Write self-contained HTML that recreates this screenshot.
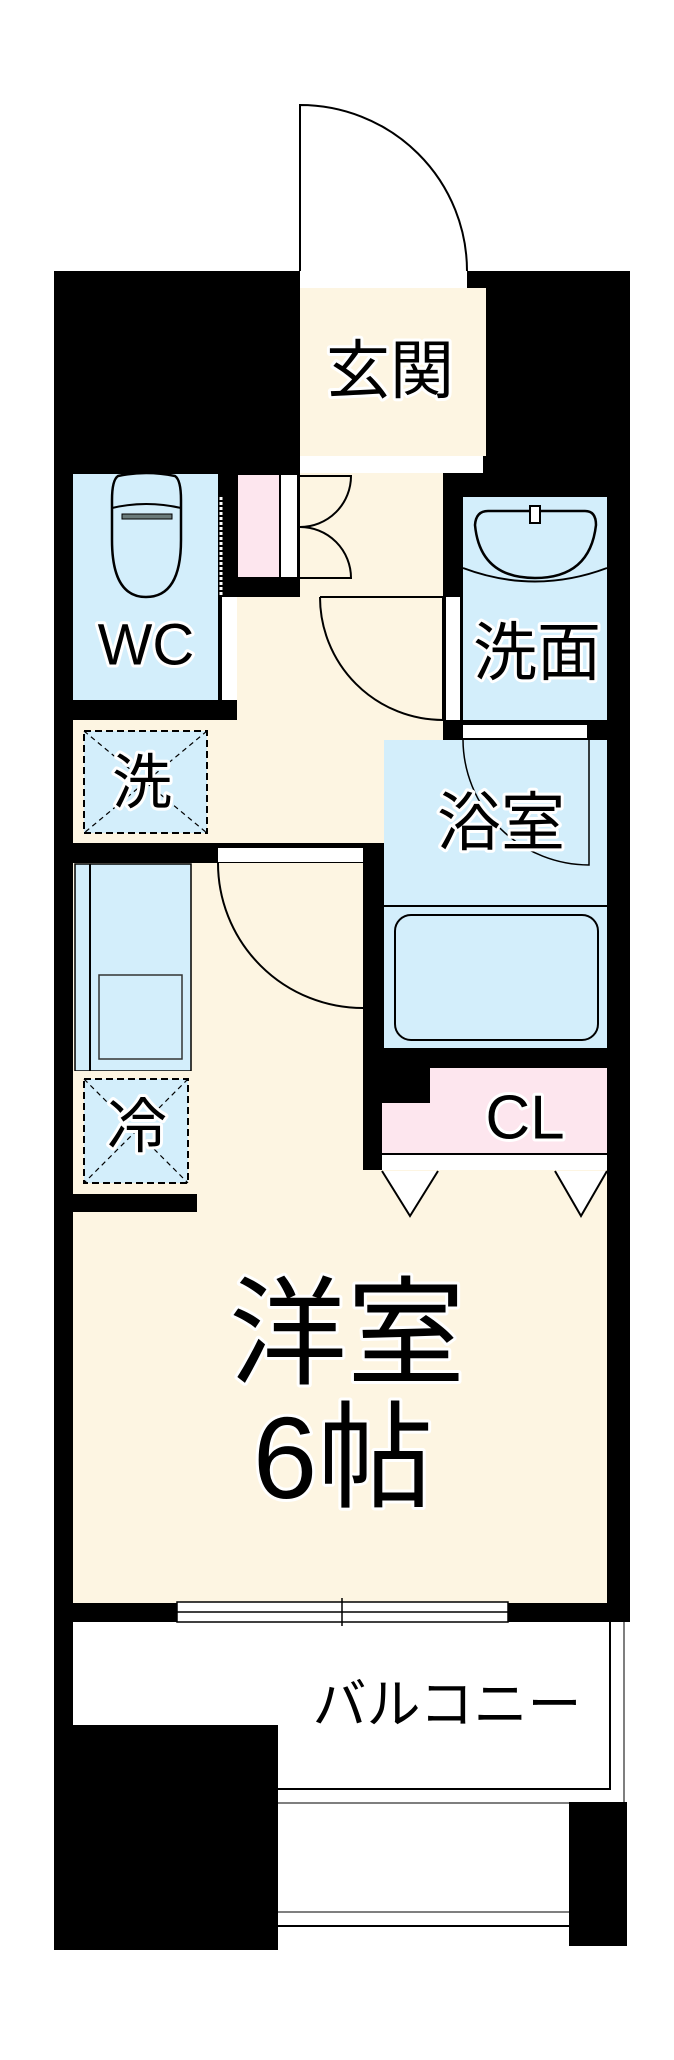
<!DOCTYPE html>
<html><head><meta charset="utf-8"><style>
html,body{margin:0;padding:0;background:#fff}
svg{display:block}
text{font-family:"Liberation Sans","Noto Sans CJK JP",sans-serif;fill:#000;stroke:#fff;stroke-width:6;paint-order:stroke;stroke-linejoin:round;text-anchor:middle;dominant-baseline:central}
</style></head><body>
<svg width="674" height="2060" viewBox="0 0 674 2060" xmlns="http://www.w3.org/2000/svg">
<rect width="674" height="2060" fill="#fff"/>
<path d="M300,271 L300,105 A167,166 0 0 1 467,271" fill="#fff" stroke="#000" stroke-width="2"/>
<rect x="54" y="271" width="576" height="1351" fill="#000"/>
<rect x="300" y="271" width="167" height="17" fill="#fff"/>
<rect x="300" y="288" width="186" height="168" fill="#fdf5e2"/>
<rect x="300" y="456" width="183" height="17" fill="#fff"/>
<rect x="300" y="473" width="143" height="130" fill="#fdf5e2"/>
<rect x="237" y="597" width="206" height="246" fill="#fdf5e2"/>
<rect x="73" y="720" width="290" height="123" fill="#fdf5e2"/>
<rect x="73" y="474" width="145" height="226" fill="#d3eefb"/>
<rect x="222" y="597" width="15" height="103" fill="#fff"/>
<line x1="221" y1="497" x2="221" y2="597" stroke="#fff" stroke-width="3" stroke-dasharray="3,2"/>
<path d="M118,476 Q146,470 175,476 Q181,480 181,500 L181,540 Q181,597 146,597 Q112,597 112,540 L112,500 Q112,480 118,476 Z" fill="#d3eefb" stroke="#000" stroke-width="2.5"/>
<path d="M112,508 Q146,500 181,508" fill="none" stroke="#000" stroke-width="2"/>
<rect x="122" y="514" width="50" height="5" fill="#6a7a7a" stroke="#000" stroke-width="1"/>
<rect x="238" y="475" width="41" height="102" fill="#fde6ee"/>
<rect x="281" y="475" width="16" height="102" fill="#fff"/>
<path d="M300,476 L351,476 A51,51 0 0 1 300,527 A51,51 0 0 1 351,578 L300,578" fill="none" stroke="#000" stroke-width="2"/>
<path d="M320,597 L443,597 L443,720 A123,123 0 0 1 320,597" fill="none" stroke="#000" stroke-width="2"/>
<rect x="463" y="497" width="144" height="223" fill="#d3eefb"/>
<rect x="446" y="597" width="14" height="123" fill="#fff"/>
<path d="M463,568 Q535,595 607,568" fill="none" stroke="#000" stroke-width="2"/>
<path d="M488,511 L585,511 Q596,511 596,525 Q590,578 535,578 Q480,578 475,525 Q476,511 488,511 Z" fill="#d3eefb" stroke="#000" stroke-width="2.5"/>
<rect x="530" y="506" width="10" height="17" fill="#fff" stroke="#000" stroke-width="2"/>
<rect x="384" y="740" width="223" height="308" fill="#d3eefb"/>
<rect x="463" y="725" width="124" height="13" fill="#fff"/>
<path d="M463,740 A126,126 0 0 0 589,865 L589,740" fill="none" stroke="#000" stroke-width="1.5"/>
<line x1="384" y1="906" x2="607" y2="906" stroke="#000" stroke-width="2"/>
<rect x="395" y="915" width="203" height="125" rx="16" fill="#d3eefb" stroke="#000" stroke-width="2"/>
<path d="M430,1068 L607,1068 L607,1153 L382,1153 L382,1103 L430,1103 Z" fill="#fde6ee"/>
<rect x="382" y="1155" width="225" height="15" fill="#fff"/>
<rect x="73" y="720" width="137" height="123" fill="#fdf5e2"/>
<rect x="84" y="731" width="123" height="102" fill="#d3eefb" stroke="#000" stroke-width="2" stroke-dasharray="7,4"/>
<path d="M84,731 L207,833 M207,731 L84,833" stroke="#000" stroke-width="1.2" stroke-dasharray="5,4"/>
<rect x="218" y="848" width="145" height="14" fill="#fff"/>
<rect x="73" y="863" width="290" height="740" fill="#fdf5e2"/>
<rect x="363" y="1170" width="244" height="433" fill="#fdf5e2"/>
<rect x="73" y="1194" width="124" height="18" fill="#000"/>
<path d="M382,1171 L410,1216 L438,1171 M555,1171 L581,1216 L607,1171" fill="#fff" stroke="#000" stroke-width="2"/>
<path d="M218,863 A145,145 0 0 0 363,1008" fill="none" stroke="#000" stroke-width="2"/>
<rect x="75" y="864" width="116" height="207" fill="#d3eefb" stroke="#000" stroke-width="1.5"/>
<line x1="90" y1="864" x2="90" y2="1071" stroke="#000" stroke-width="2"/>
<rect x="99" y="975" width="83" height="84" fill="#d3eefb" stroke="#333" stroke-width="1.5"/>
<rect x="73" y="1071" width="124" height="123" fill="#fdf5e2"/>
<rect x="84" y="1079" width="104" height="104" fill="#d3eefb" stroke="#000" stroke-width="2" stroke-dasharray="7,4"/>
<path d="M84,1079 L188,1183 M188,1079 L84,1183" stroke="#000" stroke-width="1.2" stroke-dasharray="5,4"/>
<rect x="177" y="1602" width="331" height="20" fill="#fff" stroke="#000" stroke-width="1.5"/>
<line x1="177" y1="1612" x2="508" y2="1612" stroke="#000" stroke-width="1.5"/>
<line x1="342" y1="1598" x2="342" y2="1626" stroke="#000" stroke-width="1.5"/>
<rect x="54" y="1622" width="19" height="328" fill="#000"/>
<rect x="54" y="1725" width="224" height="225" fill="#000"/>
<path d="M278,1789 L610,1789 L610,1622" fill="none" stroke="#000" stroke-width="2"/>
<path d="M278,1803 L624,1803 L624,1622" fill="none" stroke="#555" stroke-width="1.5"/>
<rect x="569" y="1802" width="58" height="144" fill="#000"/>
<line x1="278" y1="1912" x2="569" y2="1912" stroke="#555" stroke-width="1.5"/>
<line x1="278" y1="1926" x2="569" y2="1926" stroke="#000" stroke-width="2"/>
<text x="390" y="371" font-size="64">玄関</text>
<text x="146" y="645" font-size="58">WC</text>
<text x="537" y="653" font-size="64">洗面</text>
<text x="142" y="783" font-size="60">洗</text>
<text x="501" y="823" font-size="64">浴室</text>
<text x="525" y="1118" font-size="62">CL</text>
<text x="137" y="1127" font-size="60">冷</text>
<text x="347" y="1335" font-size="118">洋室</text>
<text x="343" y="1458" font-size="116">6帖</text>
<text x="447" y="1705" font-size="54">バルコニー</text>
</svg>
</body></html>
